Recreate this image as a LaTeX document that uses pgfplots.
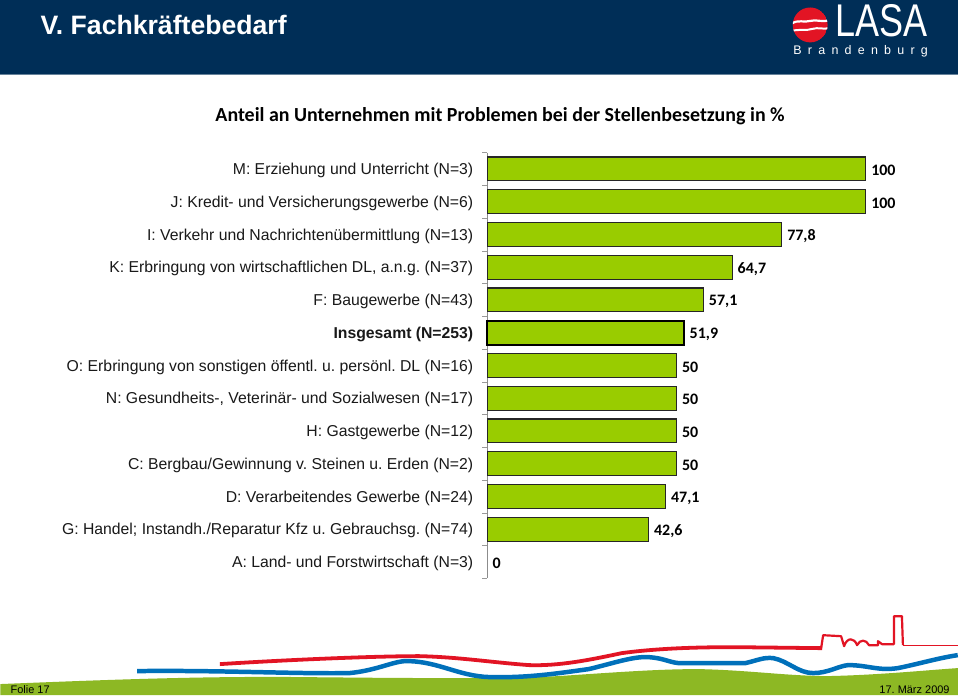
\documentclass[border=0pt]{standalone}
\usepackage{pgfplots}
\pgfplotsset{compat=1.18}
\usepackage{pgfplotstable}
\usepackage{fontspec}
\setmainfont{Liberation Sans}
\newfontfamily\calibri{Carlito}
\newfontfamily\spaced[LetterSpace=50]{Liberation Sans}
\definecolor{navy}{RGB}{0,46,87}
\definecolor{bargreen}{RGB}{153,204,0}
\definecolor{lasared}{RGB}{226,20,36}
\definecolor{riverblue}{RGB}{0,112,186}
\definecolor{groundgreen}{RGB}{141,184,36}
\frenchspacing

\pgfplotstableread{
pos val lab
0 100 100
1 100 100
2 77.8 77,8
3 64.7 64,7
4 57.1 57,1
6 50 50
7 50 50
8 50 50
9 50 50
10 47.1 47,1
11 42.6 42,6
}\branchen
\pgfplotstableread{
pos val lab
5 51.9 51,9
}\gesamt
\pgfplotstableread{
pos val lab
12 0 0
}\nullrow

\begin{document}
\begin{tikzpicture}
\begin{scope}[x=1pt,y=-1pt]
  \fill[white] (0,0) rectangle (960,697);
  % header
  \fill[navy] (0,0) rectangle (960,75);
  \draw[navy!60!white, line width=1pt] (0,74.5) -- (960,74.5);
  \node[anchor=base west, inner sep=0pt, text=white, font=\fontsize{26.7}{30}\selectfont\bfseries] at (40,35) {V. Fachkräftebedarf};
  % logo
  \begin{scope}
    \clip (812,25) circle (17.5);
    \fill[lasared] (812,25) circle (17.5);
    \draw[white, line width=2.2pt] (793,24) .. controls (800,19) and (806,23) .. (812,21) .. controls (818,19) and (824,23) .. (831,20);
    \draw[white, line width=2pt] (793,31) .. controls (802,29) and (808,31) .. (814,29) .. controls (820,27) and (826,30) .. (831,28);
  \end{scope}
  \node[anchor=base west, inner sep=0pt, text=white, xscale=0.785, font=\fontsize{46}{50}\selectfont] at (837,37) {LASA};
  \node[anchor=base west, inner sep=0pt, text=white, font=\spaced\fontsize{12.5}{14}\selectfont] at (795,55) {Brandenburg};
  % title
  \node[anchor=base, inner sep=0pt, font=\calibri\bfseries\fontsize{20}{22}\selectfont] at (501,121.5) {Anteil an Unternehmen mit Problemen bei der Stellenbesetzung in \%};
  % footer ground
  \fill[groundgreen] (0,697) -- (0,686) .. controls (100,682) and (200,678) .. (300,679) .. controls (400,680) and (500,681) .. (560,678) .. controls (620,674) and (660,671) .. (700,671) .. controls (750,672) and (790,678) .. (830,678) .. controls (880,677) and (930,672) .. (960,670) -- (960,697) -- cycle;
  \draw[lasared, line width=3.8pt] (220,666) .. controls (300,661) and (380,658) .. (420,658) .. controls (460,659) and (490,664) .. (530,667) .. controls (560,668) and (590,662) .. (623,655) .. controls (660,650) and (700,649) .. (737,649) -- (824,650);
  \draw[lasared, line width=2.2pt, line join=round] (823,650) -- (825,637) -- (843,638) -- (846,648) .. controls (849,639) and (856,639) .. (859,647) .. controls (862,641) and (868,641) .. (871,647) -- (880,647) -- (880,643) -- (884,646) -- (896,646) -- (896,618) -- (904,618) -- (905,647);
  \draw[lasared, line width=0.8pt] (905,647) -- (960,647);
  \draw[riverblue, line width=4.5pt] (137,673) .. controls (220,672) and (300,676) .. (350,675) .. controls (380,672) and (395,662) .. (410,663) .. controls (440,664) and (460,678) .. (490,679) .. controls (530,680) and (560,675) .. (590,671) .. controls (615,665) and (635,658) .. (650,659) .. controls (665,660) and (670,664) .. (680,665) -- (747,665) .. controls (760,662) and (765,659) .. (775,660) .. controls (790,663) and (800,675) .. (815,675) .. controls (830,675) and (840,668) .. (850,667) .. controls (870,667) and (880,673) .. (900,670) .. controls (920,666) and (940,660) .. (960,657);
  \node[anchor=base west, inner sep=0pt, font=\fontsize{11}{12}\selectfont] at (10,695) {Folie 17};
  \node[anchor=base east, inner sep=0pt, font=\fontsize{11}{12}\selectfont] at (952,695) {17. März 2009};
\end{scope}

\begin{axis}[
  at={(488.3pt,-580pt)}, anchor=south west,
  scale only axis, width=379.4pt, height=427pt,
  xmin=0, xmax=100, ymin=-0.5, ymax=12.5, y dir=reverse,
  clip=false,
  axis x line=none, axis y line*=left,
  y axis line style={draw=black!45, line width=0.8pt},
  ytick={0,...,12},
  yticklabels={
    {M: Erziehung und Unterricht (N=3)},
    {J: Kredit- und Versicherungsgewerbe (N=6)},
    {I: Verkehr und Nachrichtenübermittlung (N=13)},
    {K: Erbringung von wirtschaftlichen DL, a.n.g. (N=37)},
    {F: Baugewerbe (N=43)},
    {\textbf{Insgesamt (N=253)}\hspace{-3pt}},
    {O: Erbringung von sonstigen öffentl. u. persönl. DL (N=16)},
    {N: Gesundheits-, Veterinär- und Sozialwesen (N=17)},
    {H: Gastgewerbe (N=12)},
    {C: Bergbau/Gewinnung v. Steinen u. Erden (N=2)},
    {D: Verarbeitendes Gewerbe (N=24)},
    {G: Handel; Instandh./Reparatur Kfz u. Gebrauchsg. (N=74)},
    {A: Land- und Forstwirtschaft (N=3)}},
  major tick length=0pt,
  yticklabel style={font=\fontsize{15.8}{17}\selectfont, text=black!90, inner sep=0pt, xshift=-14pt, yshift=-1.5pt, anchor=east},
  extra y ticks={-0.5,0.5,...,12.5},
  extra y tick labels={},
  extra y tick style={major tick length=5pt, tick align=outside, tick style={draw=black!40, line width=0.6pt}},
  xbar, bar width=24pt,
  nodes near coords, point meta=explicit symbolic,
  every node near coord/.append style={font=\calibri\bfseries\fontsize{16}{18}\selectfont, anchor=west, inner sep=0pt, xshift=5pt, yshift=-1.5pt, text=black},
]
\addplot[fill=bargreen, draw=black!85, line width=1.1pt, bar shift=0pt] table[x=val, y=pos, meta=lab] {\branchen};
\addplot[fill=bargreen, draw=black, line width=2pt, bar shift=0pt] table[x=val, y=pos, meta=lab] {\gesamt};
\addplot[draw=none, fill=none, bar shift=0pt] table[x=val, y=pos, meta=lab] {\nullrow};
\end{axis}
\end{tikzpicture}
\end{document}
